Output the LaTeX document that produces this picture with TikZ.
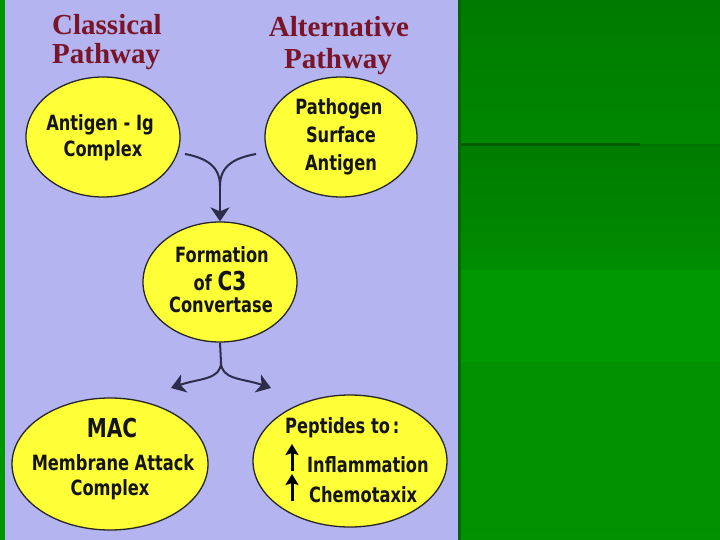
\documentclass[tikz,border=0pt]{standalone}
\usepackage{fontspec}
\setmainfont{Liberation Serif}
\newfontfamily\boxfont{DejaVu Sans Condensed}
\usetikzlibrary{shapes.geometric,arrows.meta}
\definecolor{lav}{RGB}{180,180,240}
\definecolor{bubyellow}{RGB}{255,255,56}
\definecolor{titlered}{RGB}{122,20,40}
\definecolor{linecol}{RGB}{45,45,75}
\definecolor{gA}{RGB}{0,122,0}
\definecolor{gB}{RGB}{0,136,0}
\definecolor{gC}{RGB}{0,152,0}
\definecolor{gD}{RGB}{0,144,0}
\definecolor{gline}{RGB}{0,92,0}
\definecolor{gstrip}{RGB}{0,150,0}
\newcommand\nb[1]{\scalebox{0.86}[1]{#1}}
\begin{document}
\begin{tikzpicture}[x=1pt,y=-1pt,
  bub/.style={ellipse, draw=black!85, line width=1.3pt, fill=bubyellow, inner sep=0pt},
  lbl/.style={font=\boxfont\bfseries\fontsize{21}{21}\selectfont, text=black!92, anchor=base, inner sep=0pt},
  big/.style={font=\boxfont\bfseries\fontsize{26}{26}\selectfont},
  ttl/.style={font=\bfseries\fontsize{29}{29}\selectfont, text=titlered, inner sep=0pt},
  conn/.style={draw=linecol, line width=2pt},
  tip/.style={-{Stealth[length=14pt,width=19pt,inset=4pt]}},
  uparr/.style={draw=black, line width=3pt, -{Stealth[length=11pt,width=13pt,inset=2pt]}}
]
\useasboundingbox (0,0) rectangle (720,540);
% backgrounds
\fill[gstrip] (0,0) rectangle (5,540);
\fill[lav] (5,0) rectangle (458,540);
\shade[top color=gA, bottom color=gB] (458,0) rectangle (720,145);
\shade[top color=gA!90!gB, bottom color=gB!70!gC] (458,145) rectangle (720,270);
\fill[gC] (458,270) rectangle (720,362);
\shade[top color=gD, bottom color=gD!80!gC] (458,362) rectangle (720,540);
\fill[gline] (458,143.5) rectangle (640,146.5);
\fill[gA!80!gline] (640,144) rectangle (720,146);
\fill[gA!85!black] (458,0) rectangle (461,540);

% titles
\node[ttl, anchor=base west] (t1a) at (52,35) {Classical};
\node[ttl, anchor=base west] (t1b) at (52,64) {Pathway};
\node[ttl, anchor=base] (t2a) at (339,37) {Alternative};
\node[ttl, anchor=base] (t2b) at (338,69) {Pathway};

% ellipses
\node[bub, minimum width=154pt, minimum height=120pt] (e1) at (103,137) {};
\node[bub, minimum width=152pt, minimum height=120pt] (e2) at (341,137) {};
\node[bub, minimum width=154pt, minimum height=120pt] (e3) at (220,282) {};
\node[bub, minimum width=196pt, minimum height=132pt] (e4) at (110,464) {};
\node[bub, minimum width=194pt, minimum height=132pt] (e5) at (350,461) {};

% texts
\node[lbl] (a1) at (100,131) {\nb{Antigen - Ig}};
\node[lbl] (a2) at (103,157) {\nb{Complex}};
\node[lbl] (b1) at (339,115) {\nb{Pathogen}};
\node[lbl] (b2) at (341,143) {\nb{Surface}};
\node[lbl] (b3) at (341,171) {\nb{Antigen}};
\node[lbl] (c1) at (222,262) {\nb{Formation}};
\node[lbl] (c2) at (220,290) {\nb{of {\fontsize{26}{26}\selectfont C3}}};
\node[lbl] (c3) at (221,312) {\nb{Convertase}};
\node[lbl, big] (d1) at (112,437) {\nb{MAC}};
\node[lbl] (d2) at (113,470) {\nb{Membrane Attack}};
\node[lbl] (d3) at (110,495) {\nb{Complex}};
\node[lbl, anchor=base west] (f1) at (285,433) {\nb{Peptides to\,:}};
\node[lbl, anchor=base west] (f2) at (307,472) {\nb{Inflammation}};
\node[lbl, anchor=base west] (f3) at (309,502) {\nb{Chemotaxix}};
\coordinate (u1s) at (292,471);
\coordinate (u1e) at (292,444);
\coordinate (u2s) at (292,501);
\coordinate (u2e) at (292,474);
\draw[uparr] (u1s) -- (u1e);
\draw[uparr] (u2s) -- (u2e);

% connectors top
\coordinate (l0) at (185,154);
\coordinate (r0) at (256,154);
\coordinate (m0) at (220,186);
\draw[conn] (l0) .. controls (206,158) and (220,166) .. (m0);
\draw[conn] (r0) .. controls (234,158) and (220,166) .. (m0);
\draw[conn, tip] (m0) -- (e3.north);

% connectors bottom
\coordinate (s1) at (221,362);
\coordinate (lb) at (171,388);
\coordinate (rb) at (271,388);
\draw[conn] (e3.south) -- (s1);
\draw[conn, tip] (s1) .. controls (221,380) and (200,378) .. (lb);
\draw[conn, tip] (s1) .. controls (221,380) and (242,378) .. (rb);
\end{tikzpicture}
\end{document}
